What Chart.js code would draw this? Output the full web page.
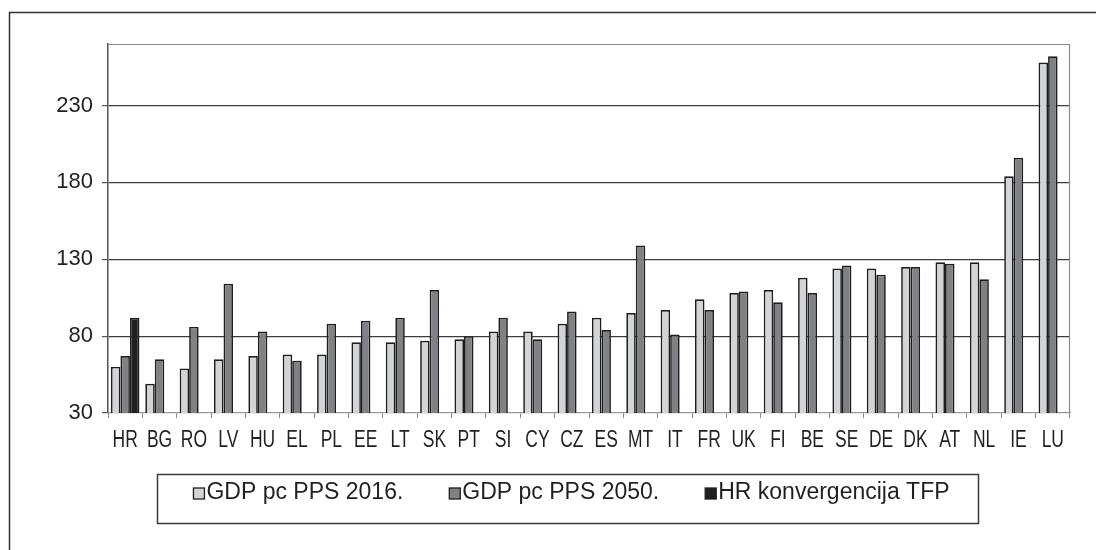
<!DOCTYPE html>
<html>
<head>
<meta charset="utf-8">
<script src="https://cdn.jsdelivr.net/npm/chart.js@4/dist/chart.umd.min.js"></script>
<style>
  html, body { margin: 0; padding: 0; background: #ffffff; }
  #wrap { position: relative; width: 1096px; height: 550px; }
</style>
</head>
<body>
<div id="wrap"><canvas id="c" width="1096" height="550"></canvas></div>
<script>
// ---- data ----
const categories = ['HR','BG','RO','LV','HU','EL','PL','EE','LT','SK','PT','SI','CY','CZ','ES','MT','IT','FR','UK','FI','BE','SE','DE','DK','AT','NL','IE','LU'];
const gdp2016 = [60, 49, 59, 65, 67, 68, 68, 76, 76, 77, 78, 83, 83, 88, 92, 95, 97, 104, 108, 110, 118, 124, 124, 125, 128, 128, 184, 258];
const gdp2050 = [67, 65, 86, 114, 83, 64, 88, 90, 92, 110, 80, 92, 78, 96, 84, 139, 81, 97, 109, 102, 108, 126, 120, 125, 127, 117, 196, 262];
const hrTfp   = [92, null, null, null, null, null, null, null, null, null, null, null, null, null, null, null, null, null, null, null, null, null, null, null, null, null, null, null];
const seriesLabels = ['GDP pc PPS 2016.', 'GDP pc PPS 2050.', 'HR konvergencija TFP'];
const yTicks = [30, 80, 130, 180, 230];
const yMin = 30, yMax = 270;

const TEXT = '#231f20';
const SANS = '"Liberation Sans", Arial, sans-serif';

// outer frame + plot frame
const framePlugin = {
  id: 'frames',
  beforeDraw(chart) {
    const ctx = chart.ctx;
    ctx.save();
    ctx.strokeStyle = '#333333';
    ctx.lineWidth = 1.5;
    ctx.beginPath();
    ctx.moveTo(9.5, 550);
    ctx.lineTo(9.5, 12.5);
    ctx.lineTo(1096, 12.5);
    ctx.stroke();
    ctx.restore();
  },
  afterDatasetsDraw(chart) {
    const a = chart.chartArea, ctx = chart.ctx;
    ctx.save();
    ctx.strokeStyle = '#8a8a8a';
    ctx.lineWidth = 1.2;
    ctx.beginPath();
    ctx.moveTo(a.left, a.top + 0.5);
    ctx.lineTo(a.right - 0.5, a.top + 0.5);
    ctx.lineTo(a.right - 0.5, a.bottom);
    ctx.stroke();
    ctx.restore();
  }
};

// condensed category labels placed by the x scale
const condensedXLabels = {
  id: 'condensedXLabels',
  afterDraw(chart, args, opts) {
    const sx = chart.scales.x, ctx = chart.ctx;
    ctx.save();
    ctx.font = opts.font;
    ctx.fillStyle = TEXT;
    ctx.textAlign = 'center';
    ctx.textBaseline = 'alphabetic';
    chart.data.labels.forEach((lab, i) => {
      const x = sx.getPixelForTick(i);
      ctx.save();
      ctx.translate(x, sx.top + opts.baseline);
      ctx.scale(opts.squeeze, 1);
      ctx.fillText(lab, 0, 0);
      ctx.restore();
    });
    ctx.restore();
  }
};

// boxed legend drawn from the datasets
const boxLegend = {
  id: 'boxLegend',
  afterDraw(chart, args, opts) {
    const ctx = chart.ctx;
    const b = opts.box;
    ctx.save();
    ctx.strokeStyle = '#3a3a3a';
    ctx.lineWidth = 1.5;
    ctx.strokeRect(b.x + 0.5, b.y + 0.5, b.w, b.h);
    ctx.font = opts.font;
    const items = chart.data.datasets.map(ds => ({
      label: ds.label, color: ds.backgroundColor, w: ctx.measureText(ds.label).width
    }));
    const m = opts.marker, gapT = opts.textGap, gapI = opts.itemGap;
    let total = 0;
    items.forEach((it, i) => { total += m + gapT + it.w + (i ? gapI : 0); });
    let x = b.x + (b.w - total) / 2 + opts.shift;
    const cy = b.y + b.h / 2 + opts.dy;
    ctx.textBaseline = 'middle';
    items.forEach(it => {
      ctx.fillStyle = it.color;
      ctx.fillRect(x, cy - m / 2 + 1, m, m);
      ctx.strokeStyle = '#1e1e1e';
      ctx.lineWidth = 1.3;
      ctx.strokeRect(x, cy - m / 2 + 1, m, m);
      ctx.fillStyle = TEXT;
      ctx.fillText(it.label, x + m + gapT, cy);
      x += m + gapT + it.w + gapI;
    });
    ctx.restore();
  }
};

const barStyle = { borderColor: '#1e1e1e', borderWidth: 1.7, borderSkipped: 'start' };

new Chart(document.getElementById('c'), {
  type: 'bar',
  data: {
    labels: categories,
    datasets: [
      Object.assign({ label: seriesLabels[0], data: gdp2016, backgroundColor: '#d3d4d6' }, barStyle),
      Object.assign({ label: seriesLabels[1], data: gdp2050, backgroundColor: '#808184' }, barStyle),
      Object.assign({ label: seriesLabels[2], data: hrTfp,   backgroundColor: '#231f20' }, barStyle)
    ]
  },
  options: {
    responsive: false,
    animation: false,
    devicePixelRatio: 1,
    layout: { padding: { top: 44, right: 26, left: 0, bottom: 0 } },
    datasets: { bar: { categoryPercentage: 0.83, barPercentage: 1.0 } },
    plugins: {
      legend: { display: false },
      tooltip: { enabled: false },
      condensedXLabels: { font: '23px ' + SANS, squeeze: 0.76, baseline: 34 },
      boxLegend: {
        box: { x: 157, y: 474, w: 821, h: 49 },
        font: '23px ' + SANS,
        marker: 11, textGap: 2, itemGap: 46, dy: -6, shift: 4
      }
    },
    scales: {
      x: {
        offset: true,
        afterFit(s) { s.height = 137; },
        grid: { display: true, drawOnChartArea: false, drawTicks: true, tickLength: 5, color: '#8a8a8a', offset: true },
        border: { display: true, color: '#9a9a9a', width: 1.2 },
        ticks: { display: false, autoSkip: false }
      },
      y: {
        min: yMin, max: yMax,
        afterFit(s) { s.width = 108; },
        afterBuildTicks(s) { s.ticks = yTicks.map(v => ({ value: v })); },
        grid: {
          color: ctx => (ctx.tick && ctx.tick.value === yMin) ? 'rgba(0,0,0,0)' : '#3c3c3c',
          tickColor: '#555555', lineWidth: 1.2, tickLength: 6, drawTicks: true
        },
        border: { display: true, color: '#555555', width: 1.5 },
        ticks: { color: TEXT, font: { family: SANS, size: 22 }, padding: 9 }
      }
    }
  },
  plugins: [framePlugin, condensedXLabels, boxLegend]
});
</script>
</body>
</html>
